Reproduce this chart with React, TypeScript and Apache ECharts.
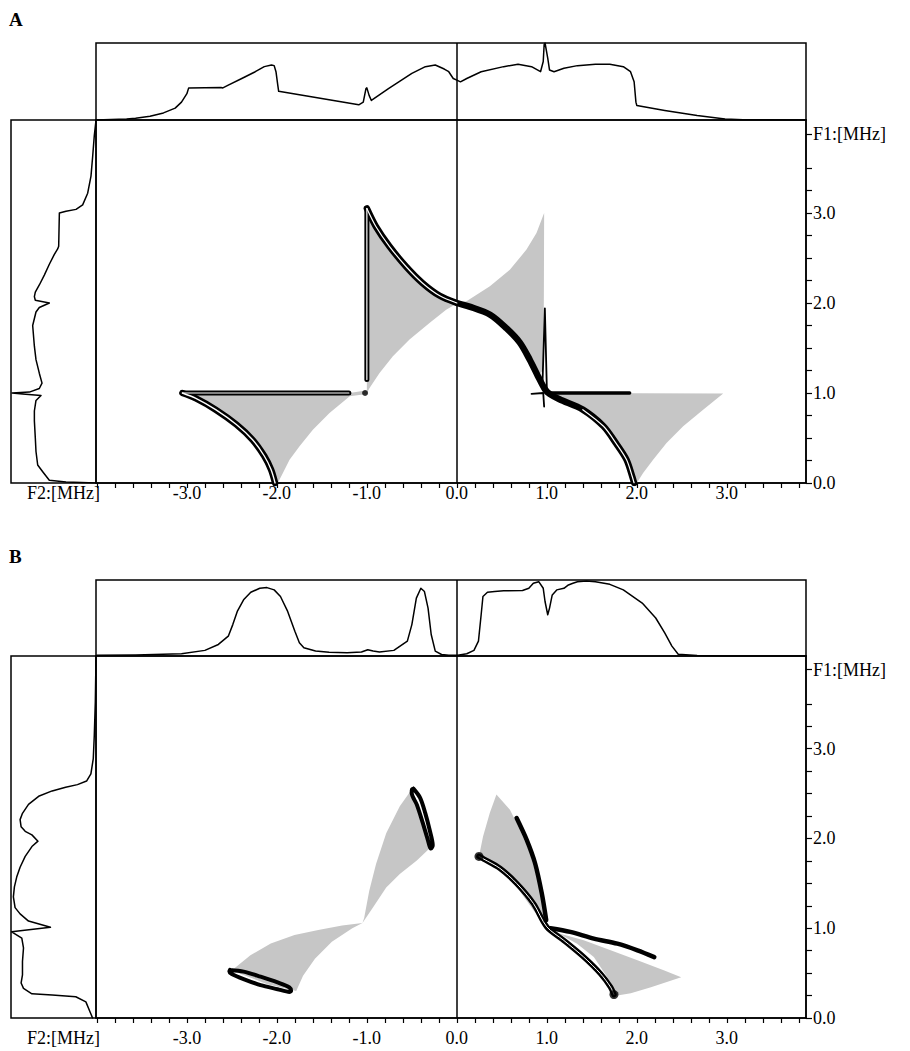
import React, { useEffect, useRef } from 'react';
import * as echarts from 'echarts';

// ---- axis ranges / ticks ----
const X_MIN = -4.01;
const X_MAX = 3.88;
const Y_MAX = 4.033;
const F2_TICKS = [-4.0, -3.8, -3.6, -3.4, -3.2, -3.0, -2.8, -2.6, -2.4, -2.2, -2.0, -1.8, -1.6, -1.4, -1.2, -1.0, -0.8, -0.6, -0.4, -0.2, 0.0, 0.2, 0.4, 0.6, 0.8, 1.0, 1.2, 1.4, 1.6, 1.8, 2.0, 2.2, 2.4, 2.6, 2.8, 3.0, 3.2, 3.4, 3.6, 3.8];
const F2_LABELS = [-3, -2, -1, 0, 1, 2, 3];
const F1_TICKS = [0, 0.25, 0.5, 0.75, 1, 1.25, 1.5, 1.75, 2, 2.25, 2.5, 2.75, 3, 3.25, 3.5, 3.88];
const F1_LABELS = [0, 1, 2, 3, 3.88];
const F1_NAME_POS = 3.88;

// ---- Panel A : projections ----
const topA = [[-4.01, 0], [-3.67, 0.013], [-3.57, 0.022], [-3.41, 0.048], [-3.26, 0.092], [-3.13, 0.154], [-3.06, 0.232], [-3.0, 0.342], [-2.98, 0.417], [-2.62, 0.421], [-2.6, 0.417], [-2.54, 0.452], [-2.39, 0.539], [-2.24, 0.627], [-2.14, 0.693], [-2.06, 0.715], [-2.03, 0.706], [-2.01, 0.627], [-1.99, 0.452], [-1.98, 0.373], [-1.09, 0.197], [-1.04, 0.232], [-1.01, 0.408], [-1.0, 0.417], [-0.975, 0.32], [-0.95, 0.254], [-0.76, 0.408], [-0.5, 0.605], [-0.35, 0.693], [-0.24, 0.715], [-0.14, 0.662], [-0.09, 0.627], [-0.04, 0.539], [0.0, 0.518], [0.04, 0.496], [0.11, 0.539], [0.27, 0.627], [0.52, 0.693], [0.68, 0.724], [0.83, 0.693], [0.93, 0.627], [0.96, 0.759], [0.97, 0.978], [0.98, 1.0], [1.01, 0.803], [1.03, 0.649], [1.08, 0.627], [1.19, 0.671], [1.34, 0.706], [1.54, 0.724], [1.7, 0.724], [1.85, 0.693], [1.93, 0.627], [1.97, 0.496], [1.99, 0.232], [2.0, 0.188], [2.31, 0.123], [2.67, 0.057], [2.98, 0.013], [3.18, 0.004], [3.88, 0]];
const leftA = [[0, 4.03], [0.02, 3.86], [0.039, 3.63], [0.059, 3.41], [0.098, 3.22], [0.157, 3.09], [0.235, 3.04], [0.353, 3.02], [0.431, 3.0], [0.439, 2.63], [0.451, 2.6], [0.49, 2.54], [0.549, 2.43], [0.608, 2.31], [0.667, 2.2], [0.714, 2.12], [0.725, 2.07], [0.714, 2.03], [0.549, 2.0], [0.667, 1.95], [0.706, 1.9], [0.745, 1.75], [0.725, 1.52], [0.706, 1.37], [0.667, 1.22], [0.635, 1.11], [0.667, 1.05], [0.784, 1.01], [0.988, 1.0], [0.863, 0.99], [0.647, 0.973], [0.706, 0.917], [0.725, 0.8], [0.725, 0.69], [0.714, 0.5], [0.706, 0.35], [0.686, 0.2], [0.627, 0.125], [0.549, 0.03], [0.353, 0.011], [0, 0]];

// ---- Panel A : 2D gray regions ----
const grayA1 = [[-3.04, 1.0], [-1.19, 1.0], [-1.0, 1.03], [-1.0, 0.99], [-1.19, 0.963], [-1.415, 0.778], [-1.6, 0.593], [-1.748, 0.407], [-1.859, 0.259], [-1.933, 0.111], [-1.99, 0.0], [-2.015, 0], [-2.063, 0.148], [-2.137, 0.296], [-2.267, 0.481], [-2.452, 0.648], [-2.674, 0.815], [-2.896, 0.944]];
const grayA2 = [[-1.0, 3.02], [-0.896, 2.852], [-0.748, 2.63], [-0.563, 2.407], [-0.378, 2.222], [-0.193, 2.074], [0, 1.993], [-0.119, 1.926], [-0.304, 1.778], [-0.526, 1.593], [-0.711, 1.407], [-0.859, 1.222], [-0.97, 1.056], [-1.0, 1.0]];
const grayA3 = [[0.0, 2.0], [0.107, 2.019], [0.367, 2.185], [0.589, 2.37], [0.774, 2.593], [0.885, 2.778], [0.97, 3.0], [0.967, 2.074], [0.96, 1.26], [0.904, 1.185], [0.811, 1.37], [0.7, 1.556], [0.552, 1.722], [0.367, 1.87], [0.144, 1.963]];
const grayA4 = [[1.03, 1.0], [2.96, 0.993], [2.737, 0.815], [2.515, 0.63], [2.33, 0.444], [2.181, 0.259], [2.07, 0.111], [2.0, 0], [1.97, 0], [1.952, 0.074], [1.885, 0.259], [1.774, 0.444], [1.626, 0.63], [1.404, 0.815], [1.144, 0.926]];

// ---- Panel A : black contours ----
const blackA1 = [[-3.05, 1.0], [-2.9, 0.94], [-2.68, 0.815], [-2.45, 0.65], [-2.27, 0.48], [-2.14, 0.3], [-2.065, 0.15], [-2.02, 0]];
const blackA2 = [[-3.05, 1.0], [-1.2, 1.0]];
const blackA3 = [[-1.0, 1.15], [-1.0, 3.05]];
const blackA4 = [[-1.0, 3.05], [-0.9, 2.85], [-0.75, 2.63], [-0.56, 2.4], [-0.38, 2.22], [-0.19, 2.08], [0, 2.0], [0.14, 1.96], [0.37, 1.87], [0.55, 1.72], [0.7, 1.56], [0.81, 1.37], [0.9, 1.19], [0.98, 1.04], [1.03, 0.99], [1.14, 0.93], [1.4, 0.815], [1.63, 0.63], [1.77, 0.44], [1.885, 0.26], [1.95, 0.07], [1.97, 0]];
const blackA5 = [[1.0, 1.0], [1.92, 1.0]];
const blackA6 = [[0.95, 1.05], [0.978, 1.94], [1.0, 1.05]];
const blackA7 = [[0.83, 0.99], [0.96, 1.0], [0.97, 0.85]];
const dotA = [[-1.02, 1.0]];

// ---- Panel B : projections ----
const topB = [[-4.0, 0.009], [-3.57, 0.013], [-3.06, 0.03], [-2.8, 0.074], [-2.65, 0.152], [-2.54, 0.261], [-2.49, 0.413], [-2.44, 0.587], [-2.37, 0.739], [-2.29, 0.839], [-2.19, 0.891], [-2.11, 0.9], [-2.03, 0.87], [-1.96, 0.783], [-1.88, 0.587], [-1.8, 0.326], [-1.75, 0.174], [-1.7, 0.109], [-1.57, 0.065], [-1.42, 0.048], [-1.22, 0.043], [-1.06, 0.052], [-0.99, 0.083], [-0.93, 0.065], [-0.86, 0.052], [-0.7, 0.074], [-0.55, 0.196], [-0.5, 0.413], [-0.45, 0.761], [-0.4, 0.891], [-0.36, 0.848], [-0.32, 0.63], [-0.285, 0.283], [-0.24, 0.065], [-0.17, 0.02], [-0.09, 0.01], [0.01, 0.01], [0.11, 0.03], [0.19, 0.074], [0.24, 0.196], [0.27, 0.543], [0.29, 0.783], [0.34, 0.839], [0.42, 0.848], [0.52, 0.857], [0.73, 0.861], [0.8, 0.891], [0.85, 0.957], [0.91, 0.978], [0.96, 0.891], [0.98, 0.717], [1.01, 0.543], [1.03, 0.63], [1.06, 0.804], [1.11, 0.87], [1.19, 0.891], [1.24, 0.935], [1.29, 0.957], [1.34, 0.978], [1.44, 0.987], [1.54, 0.978], [1.7, 0.943], [1.85, 0.87], [2.06, 0.696], [2.21, 0.5], [2.31, 0.304], [2.39, 0.13], [2.46, 0.022], [2.67, 0.005], [2.98, 0], [3.88, 0]];
const leftB = [[0, 4.02], [0.008, 3.52], [0.02, 3.15], [0.032, 2.89], [0.06, 2.72], [0.111, 2.64], [0.218, 2.6], [0.357, 2.57], [0.516, 2.53], [0.675, 2.47], [0.794, 2.38], [0.865, 2.28], [0.893, 2.21], [0.881, 2.13], [0.833, 2.08], [0.754, 2.04], [0.683, 1.97], [0.754, 1.91], [0.833, 1.8], [0.893, 1.68], [0.933, 1.57], [0.96, 1.46], [0.972, 1.35], [0.952, 1.23], [0.893, 1.16], [0.794, 1.08], [0.536, 1.01], [0.992, 0.96], [0.873, 0.89], [0.853, 0.78], [0.865, 0.63], [0.865, 0.48], [0.881, 0.39], [0.853, 0.33], [0.754, 0.27], [0.516, 0.255], [0.238, 0.237], [0.119, 0.18], [0.071, 0.07], [0.04, 0]];

// ---- Panel B : 2D gray regions ----
const grayB1 = [[-2.502, 0.528], [-2.294, 0.698], [-2.068, 0.83], [-1.804, 0.925], [-1.54, 0.981], [-1.275, 1.03], [-1.049, 1.057], [-1.162, 1.0], [-1.389, 0.849], [-1.577, 0.66], [-1.709, 0.472], [-1.785, 0.302], [-2.106, 0.377]];
const grayB2 = [[-0.502, 2.547], [-0.287, 1.906], [-0.445, 1.755], [-0.634, 1.604], [-0.785, 1.453], [-0.936, 1.226], [-1.049, 1.057], [-1.03, 1.113], [-0.974, 1.415], [-0.898, 1.717], [-0.785, 2.057], [-0.634, 2.358]];
const grayB3 = [[0.44, 2.489], [0.59, 2.321], [0.701, 2.097], [0.813, 1.836], [0.888, 1.575], [0.944, 1.313], [1.0, 1.015], [0.851, 1.201], [0.664, 1.463], [0.478, 1.649], [0.291, 1.761], [0.246, 1.799], [0.291, 2.022], [0.366, 2.284]];
const grayB4 = [[1.0, 1.015], [1.149, 0.94], [1.41, 0.866], [1.709, 0.754], [2.007, 0.642], [2.306, 0.53], [2.493, 0.455], [2.157, 0.343], [1.933, 0.276], [1.784, 0.25], [1.672, 0.455], [1.522, 0.679], [1.336, 0.828]];

// ---- Panel B : black contours ----
const ovalB1 = [[-2.521, 0.536], [-2.37, 0.517], [-2.181, 0.46], [-1.992, 0.396], [-1.86, 0.34], [-1.842, 0.302], [-1.86, 0.291], [-1.992, 0.321], [-2.181, 0.366], [-2.37, 0.434], [-2.502, 0.491], [-2.528, 0.517], [-2.521, 0.536]];
const ovalB2 = [[-0.483, 2.555], [-0.408, 2.453], [-0.351, 2.283], [-0.302, 2.094], [-0.268, 1.925], [-0.287, 1.887], [-0.332, 2.019], [-0.389, 2.208], [-0.445, 2.377], [-0.502, 2.509], [-0.498, 2.547], [-0.483, 2.555]];
const blackB1 = [[0.246, 1.8], [0.3, 1.77], [0.478, 1.668], [0.664, 1.5], [0.851, 1.276], [1.0, 1.015], [1.187, 0.866], [1.41, 0.679], [1.597, 0.493], [1.709, 0.343], [1.746, 0.261]];
const blackB2 = [[0.664, 2.228], [0.776, 1.985], [0.869, 1.724], [0.944, 1.388], [0.993, 1.09]];
const blackB3 = [[1.04, 1.0], [1.261, 0.959], [1.522, 0.884], [1.784, 0.828], [2.007, 0.754], [2.194, 0.679]];
const blackB1Ends = [[0.246, 1.8], [1.746, 0.261]];

const GRAY = '#c6c6c6';
const FONT = '"Liberation Serif", "Times New Roman", serif';
const FS = 18;

function polySeries(pts: number[][], gi: number) {
  return {
    type: 'custom', xAxisIndex: gi, yAxisIndex: gi, silent: true, z: 2,
    data: [pts[0]],
    renderItem: (_p: any, api: any) => ({
      type: 'polygon',
      shape: { points: pts.map((p) => api.coord(p)) },
      style: { fill: GRAY, stroke: 'none' },
    }),
  };
}

function lineSeries(pts: number[][], gi: number, width: number, color = '#000', z = 3, smooth: any = false, extra: any = {}) {
  return {
    type: 'line', xAxisIndex: gi, yAxisIndex: gi, data: pts, symbol: 'none', showSymbol: false,
    silent: true, smooth, z,
    lineStyle: { color, width, cap: 'round', join: 'round' },
    ...extra,
  };
}

const zeroLine = {
  silent: true, symbol: ['none', 'none'], label: { show: false },
  lineStyle: { color: '#000', width: 1.5, type: 'solid' },
  data: [{ xAxis: 0 }],
};

export default function App() {
  const ref = useRef<HTMLDivElement>(null);
  useEffect(() => {
    document.body.style.margin = '0';
    const chart = echarts.init(ref.current!, null, { renderer: 'svg' });

    const panels = [
      { top: 43, mid: 120, bot: 483, labelMargin: 1 },
      { top: 580, mid: 656, bot: 1018, labelMargin: 11 },
    ];
    const grid: any[] = [];
    const xAxis: any[] = [];
    const yAxis: any[] = [];
    const border = { show: true, borderColor: '#000', borderWidth: 1.5, backgroundColor: 'rgba(0,0,0,0)' };
    panels.forEach((p) => {
      grid.push({ left: 96, top: p.top, width: 710, height: p.mid - p.top, ...border });
      grid.push({ left: 96, top: p.mid, width: 710, height: p.bot - p.mid, ...border });
      grid.push({ left: 11, top: p.mid, width: 85, height: p.bot - p.mid, ...border });
      const gi = grid.length - 3;
      const hidden = { show: false };
      xAxis.push({ type: 'value', gridIndex: gi, min: X_MIN, max: X_MAX, ...hidden });
      yAxis.push({ type: 'value', gridIndex: gi, min: 0, max: 1, ...hidden });
      xAxis.push({
        type: 'value', gridIndex: gi + 1, min: X_MIN, max: X_MAX, position: 'bottom',
        axisLine: { show: true, onZero: false, lineStyle: { color: '#000', width: 1.5 } },
        axisTick: { show: true, length: 5, customValues: F2_TICKS, lineStyle: { color: '#000', width: 1.2 } },
        axisLabel: {
          show: true, customValues: F2_LABELS, margin: p.labelMargin, color: '#000',
          fontFamily: FONT, fontSize: FS, formatter: (v: number) => v.toFixed(1),
        },
        splitLine: { show: false },
      });
      yAxis.push({
        type: 'value', gridIndex: gi + 1, min: 0, max: Y_MAX, position: 'right',
        axisLine: { show: true, onZero: false, lineStyle: { color: '#000', width: 1.5 } },
        axisTick: { show: true, length: 6, customValues: F1_TICKS, lineStyle: { color: '#000', width: 1.2 } },
        axisLabel: {
          show: true, customValues: F1_LABELS, margin: 7, color: '#000', fontFamily: FONT, fontSize: FS,
          formatter: (v: number) => (v === F1_NAME_POS ? 'F1:[MHz]' : v.toFixed(1)),
        },
        splitLine: { show: false },
      });
      xAxis.push({ type: 'value', gridIndex: gi + 2, min: 0, max: 1, inverse: true, ...hidden });
      yAxis.push({ type: 'value', gridIndex: gi + 2, min: 0, max: Y_MAX, ...hidden });
    });

    const series: any[] = [
      // Panel A
      lineSeries(topA, 0, 1.5, '#000', 3, false, { markLine: zeroLine }),
      polySeries(grayA1, 1), polySeries(grayA2, 1), polySeries(grayA3, 1), polySeries(grayA4, 1),
      lineSeries(blackA1, 1, 6.5, '#000', 4, 0.3, { markLine: zeroLine }),
      lineSeries(blackA2, 1, 5),
      lineSeries(blackA3, 1, 5),
      lineSeries(blackA4, 1, 6.5, '#000', 4, 0.3),
      lineSeries(blackA5, 1, 3.5),
      lineSeries(blackA6, 1, 1.8),
      lineSeries(blackA7, 1, 1.8),
      lineSeries(blackA1, 1, 1.4, '#fff', 5, 0.3),
      lineSeries(blackA2, 1, 1.2, '#fff', 5),
      lineSeries(blackA3, 1, 1.2, '#fff', 5),
      lineSeries(blackA4.slice(0, 7), 1, 1.2, '#fff', 5, 0.3),
      lineSeries(blackA4.slice(16), 1, 1.2, '#fff', 5, 0.3),
      { type: 'scatter', xAxisIndex: 1, yAxisIndex: 1, data: dotA, symbolSize: 6, itemStyle: { color: '#000' }, silent: true, z: 6 },
      lineSeries(leftA, 2, 1.5),
      // Panel B
      lineSeries(topB, 3, 1.5, '#000', 3, false, { markLine: zeroLine }),
      polySeries(grayB1, 4), polySeries(grayB2, 4), polySeries(grayB3, 4), polySeries(grayB4, 4),
      lineSeries(ovalB1, 4, 4, '#000', 4, 0.3, { markLine: zeroLine }),
      lineSeries(ovalB2, 4, 4, '#000', 4, 0.3),
      lineSeries(blackB1, 4, 5.5, '#000', 4, 0.3),
      lineSeries(blackB2, 4, 4.5, '#000', 4, 0.3),
      lineSeries(blackB3, 4, 4.5, '#000', 4, 0.3),
      lineSeries(blackB1, 4, 1.0, '#fff', 5, 0.3),
      {
        type: 'scatter', xAxisIndex: 4, yAxisIndex: 4, data: blackB1Ends, symbol: 'circle', symbolSize: 9,
        itemStyle: { color: '#000', borderColor: '#000', borderWidth: 0 }, silent: true, z: 6,
      },
      lineSeries(leftB, 5, 1.5),
    ];

    const txt = (text: string, left: number, top: number, font: string) => ({
      type: 'text', left, top, silent: true, style: { text, font, fill: '#000' },
    });

    chart.setOption({
      animation: false,
      backgroundColor: '#fff',
      grid, xAxis, yAxis, series,
      graphic: [
        txt('A', 9, 10, `bold 19px ${FONT}`),
        txt('B', 9, 547, `bold 19px ${FONT}`),
        txt('F2:[MHz]', 27, 483 + 1, `${FS}px ${FONT}`),
        txt('F2:[MHz]', 27, 1018 + 11, `${FS}px ${FONT}`),
      ],
    });
    return () => chart.dispose();
  }, []);
  return <div ref={ref} style={{ width: 910, height: 1051 }} />;
}
